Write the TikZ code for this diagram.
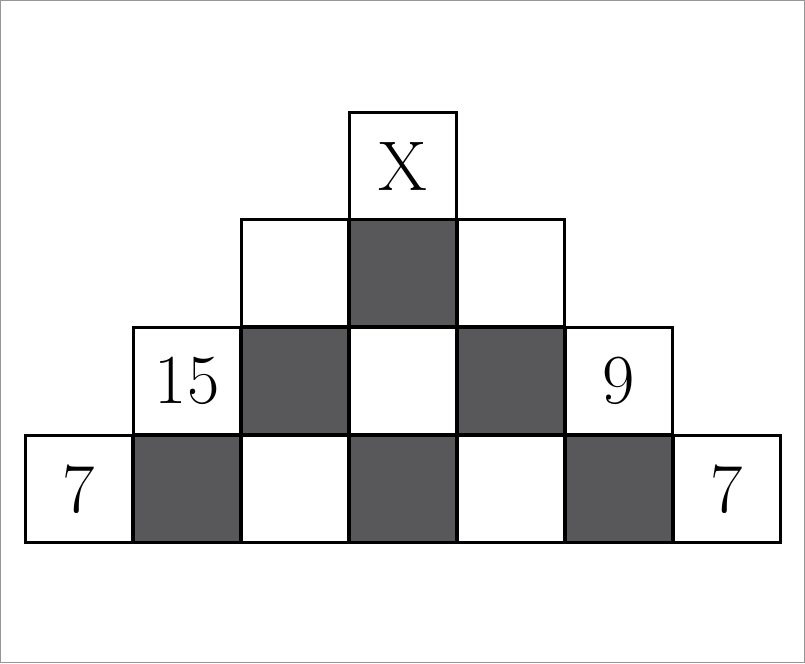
\documentclass[tikz,border=0pt]{standalone}
\usepackage{tikz}

\definecolor{darkcell}{RGB}{88,88,90}
\definecolor{frame}{RGB}{150,150,150}

\tikzset{
  cell/.style={draw=black, line width=0.06cm, minimum size=2.16cm, inner sep=0pt,
    font=\fontsize{40}{48}\selectfont},
  dark/.style={cell, fill=darkcell}
}

\begin{document}
\begin{tikzpicture}[x=0.02cm, y=-0.02cm]
            \useasboundingbox (0,0) rectangle (805,663);
            \draw[frame, line width=0.02cm] (0.5,0.5) rectangle (804.5,662.5);
            % bottom row
            \node[cell] (b1) at (79,489) {7};
            \node[dark] (b2) at (187,489) {};
            \node[cell] (b3) at (295,489) {};
            \node[dark] (b4) at (403,489) {};
            \node[cell] (b5) at (511,489) {};
            \node[dark] (b6) at (619,489) {};
            \node[cell] (b7) at (727,489) {7};
            % second row
            \node[cell] (m1) at (187,381) {15};
            \node[dark] (m2) at (295,381) {};
            \node[cell] (m3) at (403,381) {};
            \node[dark] (m4) at (511,381) {};
            \node[cell] (m5) at (619,381) {9};
            % third row
            \node[cell] (t1) at (295,273) {};
            \node[dark] (t2) at (403,273) {};
            \node[cell] (t3) at (511,273) {};
            % top
            \node[cell] (top) at (403,166) {X};
        \end{tikzpicture}
\end{document}
